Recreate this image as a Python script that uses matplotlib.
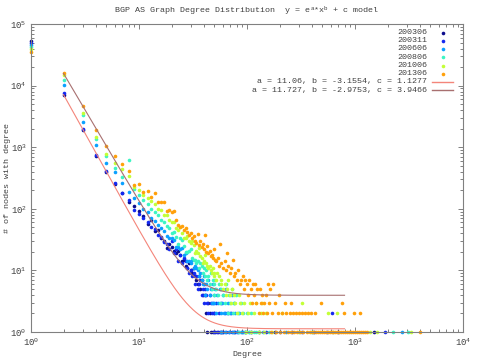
import numpy as np
import matplotlib
matplotlib.use('Agg')
import matplotlib.pyplot as plt
from matplotlib.lines import Line2D
from matplotlib.ticker import LogLocator, LogFormatterMathtext, NullFormatter

plt.rcParams['font.family'] = ['Liberation Mono', 'DejaVu Sans']
plt.rcParams['mathtext.default'] = 'regular'
plt.rcParams['font.size'] = 6

TXT = '#404040'
AXC = '#808080'

labels = ['200306', '200311', '200606', '200806', '201006', '201306']
colors = ['#0c0c8c', '#1428f0', '#0aa0ff', '#3cf5c3', '#c3ff37', '#ffa00a']

pts_200306 = [(1, 53000), (2, 7100), (3, 1900), (4, 720), (5, 400), (6, 255), (7, 178), (8, 128),
              (9, 113), (10, 91), (11, 75), (12, 57), (13, 66), (14, 43), (15, 46), (16, 33),
              (17, 30), (18, 23), (19, 27), (20, 24), (21, 21), (22, 19), (23, 21), (24, 18),
              (25, 14), (26, 15), (27, 12), (28, 11), (29, 13), (30, 10), (31, 9), (32, 11),
              (33, 8), (34, 7), (35, 6), (36, 8), (37, 5), (38, 7), (39, 4), (40, 6), (41, 4),
              (42, 2), (43, 1), (44, 3), (45, 2), (46, 1), (48, 1), (49, 2), (51, 1), (54, 1),
              (57, 1), (60, 1), (75, 1), (95, 1), (130, 1), (180, 1), (260, 1), (420, 1),
              (700, 1), (1500, 1)]

pts_200311 = [(1, 50000), (2, 7700), (3, 1950), (4, 745), (5, 410), (6, 262), (7, 182), (8, 137),
              (9, 97), (10, 82), (11, 70), (12, 60), (13, 50), (14, 47), (15, 38), (16, 35),
              (17, 29), (18, 27), (19, 22), (20, 30), (21, 19), (22, 22), (23, 14), (24, 18),
              (25, 13), (26, 16), (27, 14), (28, 11), (29, 9), (30, 10), (31, 8), (32, 9),
              (33, 6), (34, 8), (35, 5), (36, 6), (37, 7), (38, 4), (39, 5), (40, 3), (41, 5),
              (42, 4), (43, 3), (44, 2), (45, 4), (46, 3), (47, 2), (48, 3), (49, 1), (50, 2),
              (52, 3), (53, 1), (55, 2), (56, 1), (58, 3), (59, 1), (62, 2), (64, 1), (66, 2),
              (68, 1), (71, 2), (73, 1), (77, 1), (82, 1), (90, 1), (110, 1), (150, 1),
              (200, 1), (320, 1), (550, 1), (610, 2), (1900, 1)]

pts_200606 = [(1, 46000), (2, 10200), (3, 2600), (4, 1070), (5, 555), (6, 395), (7, 265),
              (8, 190), (9, 150), (10, 125), (11, 98), (12, 88), (13, 70), (14, 64), (15, 55),
              (16, 48), (17, 44), (18, 36), (19, 33), (20, 34), (21, 31), (22, 24), (23, 24),
              (24, 22), (25, 23), (26, 18), (27, 19), (28, 14), (29, 14), (30, 13), (31, 15),
              (32, 11), (33, 12), (34, 11), (35, 10), (36, 8), (37, 9), (38, 7), (39, 6), (40, 8),
              (41, 4), (42, 6), (43, 5), (44, 7), (45, 4), (46, 5), (47, 3), (48, 6), (49, 4),
              (50, 3), (51, 5), (52, 2), (53, 4), (54, 3), (56, 5), (57, 2), (58, 1), (59, 3),
              (60, 4), (61, 2), (63, 1), (64, 5), (65, 2), (67, 3), (68, 1), (70, 2), (72, 4),
              (74, 1), (76, 3), (78, 2), (80, 1), (84, 2), (88, 1), (92, 1), (97, 1), (104, 1),
              (110, 1), (140, 1), (230, 1), (400, 1), (2700, 1)]

pts_200806 = [(1, 43000), (2, 12300), (3, 3330), (4, 1340), (5, 717), (6, 457), (7, 330),
              (8, 620), (9, 210), (10, 170), (11, 140), (12, 118), (13, 100), (14, 90), (15, 78),
              (16, 66), (17, 60), (18, 52), (19, 48), (20, 40), (21, 42), (22, 35), (23, 27),
              (24, 33), (25, 31), (26, 25), (27, 20), (28, 20), (29, 21), (30, 22), (31, 16),
              (32, 15), (33, 15), (34, 13), (35, 14), (36, 11), (37, 13), (38, 12), (39, 9),
              (40, 11), (41, 8), (42, 10), (43, 7), (44, 8), (45, 6), (46, 9), (47, 5), (48, 7),
              (49, 6), (50, 4), (51, 7), (52, 5), (54, 4), (55, 6), (56, 3), (58, 5), (60, 4),
              (62, 3), (64, 6), (66, 2), (68, 4), (70, 3), (72, 5), (74, 2), (76, 3), (79, 4),
              (82, 2), (85, 1), (88, 3), (92, 2), (96, 1), (100, 2), (105, 1), (110, 2),
              (115, 1), (122, 1), (128, 1), (160, 1), (300, 1), (620, 1), (2250, 1), (3070, 1)]

pts_201006 = [(1, 39000), (2, 14900), (3, 3650), (4, 1480), (5, 784), (6, 550), (7, 440),
              (8, 340), (9, 230), (10, 200), (11, 170), (12, 150), (13, 135), (14, 120),
              (15, 100), (16, 95), (17, 80), (18, 78), (19, 65), (20, 60), (21, 62), (22, 48),
              (23, 46), (24, 50), (25, 40), (26, 34), (27, 33), (28, 36), (29, 30), (30, 28),
              (31, 30), (32, 26), (33, 19), (34, 21), (35, 19), (36, 23), (37, 17), (38, 16),
              (39, 13), (40, 14), (41, 18), (42, 13), (43, 12), (44, 11), (45, 12), (46, 10),
              (47, 9), (48, 11), (49, 9), (50, 8), (52, 7), (53, 9), (55, 8), (57, 6), (58, 7),
              (60, 5), (62, 6), (64, 4), (65, 5), (67, 7), (69, 4), (71, 3), (73, 5), (75, 4),
              (78, 3), (81, 2), (84, 4), (87, 3), (90, 2), (94, 3), (98, 1), (102, 2), (106, 3),
              (110, 1), (116, 2), (122, 3), (128, 1), (135, 2), (137, 3), (143, 1), (150, 2),
              (170, 1), (210, 2), (325, 3), (400, 1), (560, 2), (680, 2), (1370, 1), (1600, 1),
              (3300, 1)]

pts_201306 = [(1, 35000), (2, 15900), (3, 4690), (4, 1930), (5, 1040), (6, 710), (7, 525),
              (8, 405), (9, 245), (10, 253), (11, 190), (12, 192), (13, 158), (14, 181),
              (15, 127), (16, 130), (17, 130), (18, 93), (19, 95), (20, 88), (21, 92), (22, 67),
              (23, 55), (24, 50), (25, 52), (26, 45), (27, 48), (28, 42), (29, 38), (30, 40),
              (31, 33), (32, 36), (33, 30), (34, 28), (35, 39), (36, 26), (37, 30), (38, 24),
              (39, 27), (40, 22), (41, 38), (42, 20), (43, 25), (44, 19), (45, 21), (46, 17),
              (47, 18), (48, 16), (50, 22), (51, 15), (52, 14), (54, 16), (55, 12), (56, 27),
              (58, 13), (60, 11), (62, 14), (64, 10), (65, 19), (67, 12), (69, 9), (71, 11),
              (74, 15), (76, 8), (78, 9), (80, 7), (83, 10), (86, 6), (88, 7), (91, 8), (94, 5),
              (96, 7), (99, 6), (102, 4), (105, 7), (108, 5), (111, 3), (114, 6), (117, 4),
              (119, 6), (122, 3), (125, 5), (128, 2), (131, 5), (134, 3), (138, 4), (141, 2),
              (145, 3), (149, 4), (152, 2), (157, 6), (160, 3), (163, 5), (167, 1), (170, 2),
              (175, 6), (180, 3), (186, 1), (192, 2), (198, 4), (204, 1), (211, 2), (218, 1),
              (225, 3), (232, 2), (240, 1), (248, 2), (256, 1), (258, 3), (265, 2), (272, 1),
              (282, 2), (291, 1), (300, 2), (310, 1), (320, 2), (332, 1), (344, 2), (356, 1),
              (368, 2), (381, 1), (395, 2), (410, 1), (425, 2), (440, 1), (458, 1), (476, 1),
              (485, 3), (495, 1), (515, 1), (537, 1), (560, 1), (583, 1), (607, 1), (632, 1),
              (658, 1), (686, 1), (715, 1), (745, 1), (760, 3), (777, 1), (795, 2), (810, 1),
              (845, 1), (880, 1), (918, 1), (957, 1), (980, 2), (998, 1), (1040, 1), (1085, 1),
              (1110, 2), (1131, 1), (1180, 1), (1230, 1), (1290, 1), (4000, 1)]

series = [pts_200306, pts_200311, pts_200606, pts_200806, pts_201006, pts_201306]

fit_params = [(11.06, -3.1554, 1.1277), (11.727, -2.9753, 3.9466)]
fit_labels = ['a = 11.06, b = -3.1554, c = 1.1277', 'a = 11.727, b = -2.9753, c = 3.9466']
fit_colors = ['#f4857a', '#a87070']
fit_range = (2, 800)

W, H = 479, 359
fig = plt.figure(figsize=(W / 100, H / 100), dpi=100)
L, R, T, B = 31, 463, 24, 332
ax = fig.add_axes([L / W, 1 - B / H, (R - L) / W, (B - T) / H])

MS = 2.6
for pts, col in zip(series, colors):
    d = [p[0] for p in pts]
    c = [p[1] for p in pts]
    ax.plot(d, c, linestyle='none', marker='o', ms=MS, mew=0, color=col, clip_on=False, zorder=2)

xf = np.geomspace(fit_range[0], fit_range[1], 400)
for (a, b, c), col in zip(fit_params, fit_colors):
    ax.plot(xf, np.exp(a) * xf ** b + c, color=col, lw=0.8, zorder=3)

ax.set_xscale('log')
ax.set_yscale('log')
ax.set_xlim(1, 1e4)
ax.set_ylim(1, 1e5)

for axis in (ax.xaxis, ax.yaxis):
    axis.set_major_locator(LogLocator(base=10, numticks=10))
    axis.set_minor_locator(LogLocator(base=10, subs=np.arange(2, 10), numticks=10))
    axis.set_major_formatter(LogFormatterMathtext())
    axis.set_minor_formatter(NullFormatter())

ax.tick_params(which='both', direction='in', top=True, right=True, colors=AXC,
               labelcolor=TXT, labelsize=6.5, width=0.7)
ax.tick_params(which='major', length=3.5, pad=3)
ax.tick_params(which='minor', length=2)
for s in ax.spines.values():
    s.set_color(AXC)
    s.set_linewidth(0.8)

fig.text(0.5 * (L + R) / W, 1 - 354 / H, 'Degree', ha='center', va='center',
         color=TXT, fontsize=6)
fig.text(8 / W, 1 - 0.5 * (T + B) / H, '# of nodes with degree', ha='center', va='center',
         rotation=90, color=TXT, fontsize=6)
fig.text(0.5 * (L + R) / W, 1 - 11 / H,
         'BGP AS Graph Degree Distribution  y = e$^{a}$*x$^{b}$ + c model',
         ha='center', va='center', color=TXT, fontsize=6)

# key (gnuplot style: right-aligned text, sample on the right)
tx, y0, dy = 427, 32.5, 8.25
for i, (lab, col) in enumerate(zip(labels, colors)):
    yy = 1 - (y0 + i * dy) / H
    fig.text(tx / W, yy, lab, ha='right', va='center', color=TXT, fontsize=6)
    fig.add_artist(Line2D([443 / W], [yy], linestyle='none', marker='o', ms=MS, mew=0,
                          color=col))
for j, (lab, col) in enumerate(zip(fit_labels, fit_colors)):
    yy = 1 - (y0 + (6 + j) * dy) / H
    fig.text(tx / W, yy, lab, ha='right', va='center', color=TXT, fontsize=6)
    fig.add_artist(Line2D([432 / W, 453 / W], [yy, yy], color=col, lw=1.0))

fig.savefig('out.png', dpi=100)
